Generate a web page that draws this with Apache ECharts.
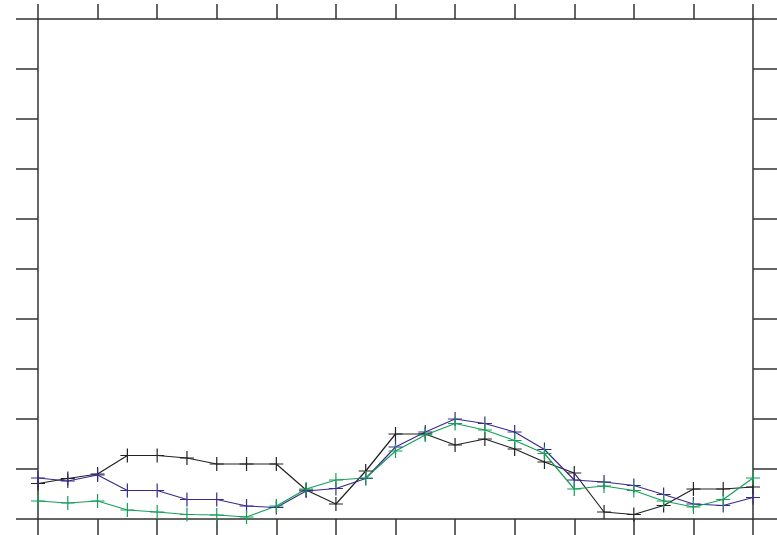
<!DOCTYPE html>
<html><head><meta charset="utf-8">
<script src="https://cdn.jsdelivr.net/npm/echarts@6/dist/echarts.min.js"></script>
<style>html,body{margin:0;padding:0;background:#fff}#c{width:777px;height:535px}</style>
</head><body><div id="c"></div>
<script>
var xs = [0,1,2,3,4,5,6,7,8,9,10,11,12,13,14,15,16,17,18,19,20,21,22,23,24];
var blackVals = [7.1,8.1,9.0,12.7,12.7,12.2,11.0,11.0,11.0,5.8,3.0,9.6,17.0,17.0,14.8,16.0,14.0,11.4,9.2,1.4,0.9,2.7,6.0,6.0,6.4];
var purpleVals = [8.2,7.6,8.8,5.7,5.7,3.9,3.9,2.6,2.3,5.6,6.1,8.1,14.4,17.4,20.0,19.1,17.4,13.9,7.8,7.4,6.7,4.9,3.0,2.7,4.3];
var greenVals = [3.6,3.2,3.6,1.8,1.4,0.9,0.8,0.4,2.6,6.0,7.8,8.2,13.6,16.8,19.1,17.8,15.7,13.1,6.0,6.6,5.7,3.6,2.4,3.9,8.2];

var plus = 'path://M0,6 L12,6 M6,0 L6,12';
function pairs(v){ return xs.map(function(x,i){ return [x, v[i]]; }); }
function mk(name, vals, color){
  return {
    name: name, type: 'line', data: pairs(vals),
    symbol: plus, symbolSize: 14, showSymbol: true,
    lineStyle: {color: color, width: 1.2},
    itemStyle: {color: 'rgba(0,0,0,0)', borderColor: color, borderWidth: 1.2},
    animation: false
  };
}
function axisLine(){ return {show: true, onZero: false, lineStyle: {color: '#333', width: 1.5}}; }
function xa(pos, len){
  return {type:'value', position: pos, min:0, max:24, interval:2,
    axisLine: axisLine(), axisTick:{show:true, inside:false, length:len, lineStyle:{color:'#333', width:1.5}},
    axisLabel:{show:false}, splitLine:{show:false}};
}
function ya(pos, len){
  return {type:'value', position: pos, min:0, max:100, interval:10,
    axisLine: axisLine(), axisTick:{show:true, inside:false, length:len, lineStyle:{color:'#333', width:1.5}},
    axisLabel:{show:false}, splitLine:{show:false}};
}
var chart = echarts.init(document.getElementById('c'), null, {renderer:'canvas'});
chart.setOption({
  animation: false,
  grid: {left: 38, right: 24, top: 19, bottom: 16, containLabel: false},
  xAxis: [xa('bottom', 16), xa('top', 15)],
  yAxis: [ya('left', 22), ya('right', 24)],
  series: [
    mk('black', blackVals, '#222222'),
    mk('purple', purpleVals, '#3b2a8c'),
    mk('green', greenVals, '#15a058')
  ]
});
</script></body></html>
